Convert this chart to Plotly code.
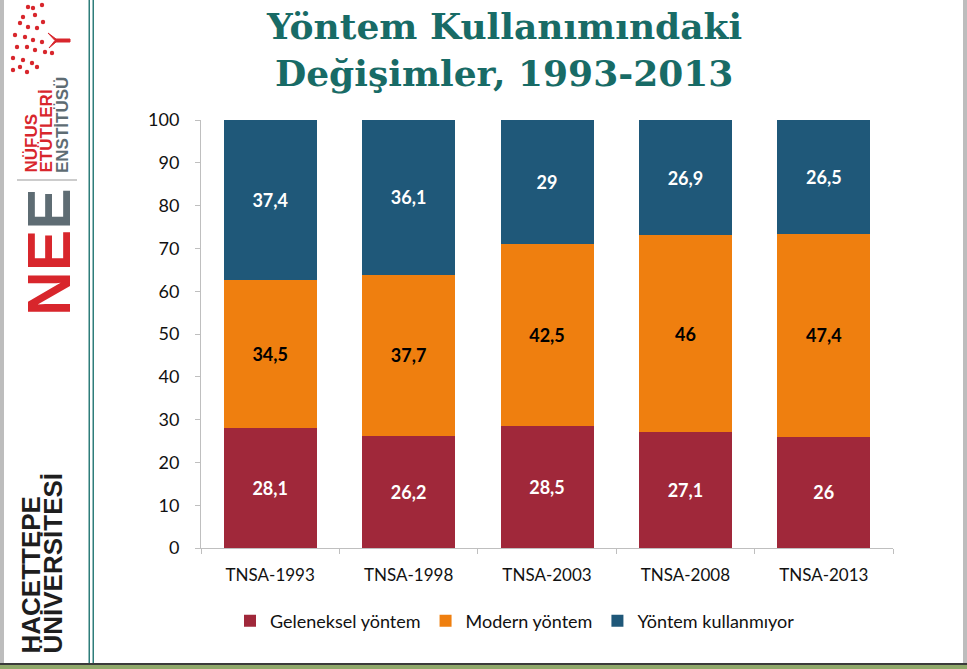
import plotly.graph_objects as go

# ---------------- data ----------------
categories = ["TNSA-1993", "TNSA-1998", "TNSA-2003", "TNSA-2008", "TNSA-2013"]
series_names = ["Geleneksel yöntem", "Modern yöntem", "Yöntem kullanmıyor"]
geleneksel = [28.1, 26.2, 28.5, 27.1, 26.0]
modern = [34.5, 37.7, 42.5, 46.0, 47.4]
kullanmiyor = [37.4, 36.1, 29.0, 26.9, 26.5]
y_ticks = [0, 10, 20, 30, 40, 50, 60, 70, 80, 90, 100]

colors = ["#A0283A", "#EF7F0F", "#1F5879"]
label_colors = ["white", "black", "white"]

W, H = 967, 669
L, R, T, B = 201, 74, 120, 121
PW, PH = W - L - R, H - T - B


def px(x):
    return (x - L) / PW


def py(y):
    return (H - B - y) / PH


def fmt(v):
    s = f"{v:g}"
    return s.replace(".", ",")


fig = go.Figure()
for name, vals, col, lc in zip(series_names, [geleneksel, modern, kullanmiyor], colors, label_colors):
    fig.add_trace(go.Bar(
        name=name, x=categories, y=vals, marker=dict(color=col, line=dict(width=0)),
        text=[fmt(v) for v in vals], textposition="inside", insidetextanchor="middle",
        textangle=0,
        textfont=dict(family="Lato", size=18, color=lc, weight="bold"),
        hoverinfo="skip",
    ))

fig.update_layout(
    width=W, height=H, barmode="stack", bargap=0.328,
    margin=dict(l=L, r=R, t=T, b=B, autoexpand=False),
    plot_bgcolor="white", paper_bgcolor="white",
    font=dict(family="Lato", size=18, color="#111111"),
    showlegend=True,
    legend=dict(orientation="h", x=px(230), xanchor="left", y=py(621), yanchor="middle",
                font=dict(family="Lato", size=18, color="#111111"), traceorder="normal",
                itemclick=False, itemdoubleclick=False),
)
fig.update_yaxes(range=[0, 100], tickvals=y_ticks, showgrid=False, zeroline=False,
                 showline=True, linecolor="#BFBFBF", linewidth=1,
                 ticks="outside", ticklen=5, tickcolor="#BFBFBF",
                 ticklabelstandoff=12, tickfont=dict(family="Lato", size=18, color="#111111"))
fig.update_xaxes(showgrid=False, showline=True, linecolor="#BFBFBF", linewidth=1,
                 ticks="outside", ticklen=5, tickcolor="#BFBFBF", tickson="boundaries",
                 ticklabelstandoff=12, tickfont=dict(family="Lato", size=17, color="#111111"))

# ---------------- title ----------------
title_col = "#186B66"
fig.add_annotation(text="<b>Yöntem Kullanımındaki</b>", xref="paper", yref="paper",
                   x=px(504), y=py(26), xanchor="center", yanchor="middle", showarrow=False,
                   font=dict(family="DejaVu Serif", size=36, color=title_col))
fig.add_annotation(text="<b>Değişimler, 1993-2013</b>", xref="paper", yref="paper",
                   x=px(504), y=py(73), xanchor="center", yanchor="middle", showarrow=False,
                   font=dict(family="DejaVu Serif", size=36, color=title_col))

# ---------------- slide frame / sidebar ----------------
shapes = []
def rect(x0, y0, x1, y1, color):
    shapes.append(dict(type="rect", xref="paper", yref="paper", x0=px(x0), x1=px(x1),
                       y0=py(y1), y1=py(y0), fillcolor=color, line=dict(width=0), layer="above"))

rect(0, 0, 4, 664, "#BDBDBD")
rect(963, 0, 967, 664, "#BDBDBD")
rect(88.5, 0, 90, 664, "#2E7D7A")
rect(92.5, 0, 94, 664, "#2E7D7A")
rect(0, 663, 967, 665, "#3A3A3A")
rect(0, 665, 967, 669, "#8FA86A")
rect(17, 179.5, 77, 180.5, "#9A9A9A")

# tree logo (decorative)
dots = [(42, 5), (33, 8), (28, 7), (23, 17), (35, 15), (43, 22), (20, 23), (28, 27),
        (37, 28), (15, 35), (25, 37), (33, 40), (42, 42), (17, 47), (27, 47), (35, 50),
        (45, 52), (52, 53), (13, 58), (23, 60), (32, 63), (20, 67), (13, 70), (27, 72), (37, 67)]
for (dx, dy) in dots:
    shapes.append(dict(type="circle", xref="paper", yref="paper", x0=px(dx - 2.2), x1=px(dx + 2.2),
                       y0=py(dy + 2.2), y1=py(dy - 2.2), fillcolor="#D8262C", line=dict(width=0),
                       layer="above"))
shapes.append(dict(type="path", xref="paper", yref="paper",
                   path=f"M{px(48)},{py(33)} L{px(56)},{py(39)} L{px(70)},{py(39)} L{px(70)},{py(42)} "
                        f"L{px(56)},{py(42)} L{px(49)},{py(48)} L{px(55)},{py(40.5)} Z",
                   fillcolor="#D8262C", line=dict(color="#D8262C", width=1), layer="above"))
fig.update_layout(shapes=shapes)

# institute name, one rotated column per line
for txt, cx, col in [("NÜFUS", 31, "#D8262C"), ("ETÜTLERİ", 46, "#D8262C"), ("ENSTİTÜSÜ", 62, "#5E6C73")]:
    fig.add_annotation(text=f"<b>{txt}</b>", xref="paper", yref="paper", x=px(cx), y=py(175),
                       xanchor="center", yanchor="bottom", textangle=-90, showarrow=False,
                       font=dict(family="Liberation Sans", size=17, color=col))
fig.add_annotation(
    text="<b><span style='color:#D8262C'>NE</span><span style='color:#5E6C73'>E</span></b>",
    xref="paper", yref="paper", x=px(48), y=py(252), xanchor="center", yanchor="middle",
    textangle=-90, showarrow=False, font=dict(family="Liberation Sans", size=62))
for txt, cx in [("HACETTEPE", 30), ("ÜNİVERSİTESİ", 52)]:
    fig.add_annotation(text=f"<b>{txt}</b>", xref="paper", yref="paper", x=px(cx), y=py(656),
                       xanchor="center", yanchor="bottom", textangle=-90, showarrow=False,
                       font=dict(family="Liberation Sans", size=26, color="#1E1E1E"))

fig.write_html("out.html", config={"displayModeBar": False},
               post_script="document.body.style.margin='0';")
